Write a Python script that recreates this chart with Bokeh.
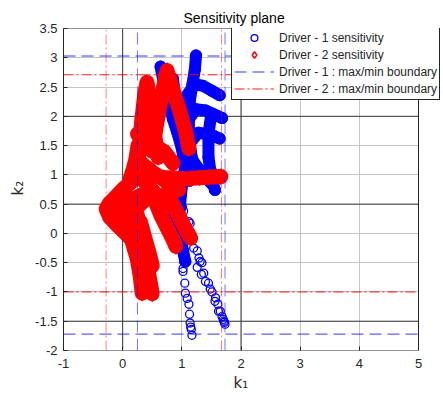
from bokeh.plotting import figure
from bokeh.models import FixedTicker, Legend, LegendItem, Span, Title, BoxAnnotation
from bokeh.embed import file_html
from bokeh.resources import INLINE

# ---------------- axes ----------------
x_limits = [-1, 5]
y_limits = [-2, 3.5]
x_view_end = 5.4225          # extra room on the right for the legend (outside the axes box)
x_ticks = [-1, 0, 1, 2, 3, 4, 5]
x_tick_labels = ["-1", "0", "1", "2", "3", "4", "5"]
y_ticks = [-2, -1.5, -1, -0.5, 0, 0.5, 1, 1.5, 2, 2.5, 3, 3.5]
y_tick_labels = ["-2", "-1.5", "-1", "-0.5", "0", "0.5", "1", "1.5", "2", "2.5", "3", "3.5"]

# ---------------- boundaries ----------------
d1_k1_bounds = [0.25, 1.73]
d1_k2_bounds = [-1.72, 3.03]
d2_k1_bounds = [-0.28, 1.67]
d2_k2_bounds = [-1.00, 2.71]

# ---------------- Driver 1 (blue) dense traces ----------------
b1_k1 = [0.64, 0.70, 0.77, 0.85, 0.93, 1.00, 1.05]
b1_k2 = [2.85, 2.55, 2.25, 1.95, 1.70, 1.45, 1.15]
b2_k1 = [0.85, 0.88, 0.93, 0.99, 1.05, 1.10, 1.13]
b2_k2 = [2.64, 2.40, 2.10, 1.80, 1.50, 1.20, 0.90]
b3_k1 = [1.24, 1.22, 1.18, 1.14, 1.12, 1.12, 1.15, 1.20]
b3_k2 = [3.04, 2.80, 2.55, 2.30, 2.00, 1.70, 1.40, 1.15]
b4_k1 = [1.08, 1.22, 1.36, 1.50, 1.64]
b4_k2 = [2.35, 2.55, 2.52, 2.44, 2.36]
b5_k1 = [1.08, 1.24, 1.40, 1.55, 1.68]
b5_k2 = [1.90, 2.12, 2.10, 2.03, 1.97]
b6_k1 = [1.10, 1.28, 1.42, 1.55, 1.64]
b6_k2 = [1.50, 1.72, 1.70, 1.66, 1.62]
b7_k1 = [1.50, 1.45, 1.45, 1.50, 1.56]
b7_k2 = [2.05, 1.70, 1.30, 0.95, 0.74]
b8_k1 = [1.05, 1.00, 0.97, 0.95, 0.97, 1.02, 1.06]
b8_k2 = [1.10, 0.80, 0.50, 0.20, -0.05, -0.30, -0.48]
b9_k1 = [1.15, 1.25, 1.38, 1.50]
b9_k2 = [1.30, 1.15, 1.00, 0.85]
b10_k1 = [0.80, 0.88, 0.95, 1.02]
b10_k2 = [0.30, 0.10, -0.10, -0.30]

# Driver 1 sparse circles (tails)
bt_k1 = [1.01, 1.03, 1.14, 1.12, 1.14, 1.20, 1.26, 1.29, 1.31, 1.34, 1.26, 1.33, 1.37,
         1.40, 1.45, 1.48, 1.51, 1.57, 1.56, 1.61, 1.62, 1.65, 1.68, 1.70, 1.71, 1.73, 1.72,
         1.03, 1.02, 1.02, 1.05, 1.06, 1.09, 1.12, 1.13, 1.14, 1.15, 1.16, 1.17]
bt_k2 = [0.45, 0.38, 0.17, 0.20, 0.00, -0.25, -0.30, -0.42, -0.48, -0.50, -0.58, -0.70, -0.68,
         -0.82, -0.85, -0.95, -1.00, -1.10, -1.16, -1.21, -1.33, -1.33, -1.42, -1.47, -1.50, -1.55, -1.52,
         -0.48, -0.60, -0.65, -0.85, -1.02, -1.11, -1.21, -1.38, -1.53, -1.60, -1.64, -1.74]

# ---------------- Driver 2 (red) dense traces ----------------
r1_k1 = [0.26, 0.32, 0.37, 0.41, 0.46, 0.52, 0.60]
r1_k2 = [1.20, 1.90, 2.35, 2.58, 2.30, 1.80, 1.30]
r2_k1 = [0.50, 0.58, 0.66, 0.75, 0.85, 0.96, 1.06, 1.12]
r2_k2 = [1.40, 1.90, 2.35, 2.78, 2.45, 2.10, 1.75, 1.45]
r3_k1 = [0.25, 0.45, 0.70, 0.85]
r3_k2 = [1.70, 1.55, 1.40, 1.20]
r4_k1 = [0.25, 0.50, 0.80, 0.95]
r4_k2 = [1.25, 1.05, 0.85, 0.75]
r5_k1 = [0.25, 0.15, 0.00, -0.12, -0.22, -0.28, -0.22, -0.10, 0.05, 0.20]
r5_k2 = [1.00, 0.88, 0.75, 0.62, 0.52, 0.42, 0.28, 0.15, 0.00, -0.15]
r6_k1 = [0.30, 0.10, -0.05, -0.15, 0.00, 0.20, 0.35]
r6_k2 = [0.65, 0.55, 0.45, 0.35, 0.30, 0.40, 0.55]
r7_k1 = [0.05, 0.15, 0.25, 0.30, 0.33]
r7_k2 = [0.20, -0.10, -0.45, -0.75, -1.02]
r8_k1 = [0.25, 0.32, 0.40, 0.45, 0.50]
r8_k2 = [0.30, -0.05, -0.45, -0.75, -1.03]
r9_k1 = [0.30, 0.38, 0.45, 0.50]
r9_k2 = [0.20, -0.10, -0.35, -0.55]
r10_k1 = [0.55, 0.65, 0.75, 0.85, 0.90]
r10_k2 = [0.55, 0.30, 0.10, -0.10, -0.22]
r11_k1 = [0.75, 0.85, 0.95, 1.05, 1.15]
r11_k2 = [0.70, 0.50, 0.30, 0.10, -0.08]
r12_k1 = [0.70, 0.85, 1.00, 1.15, 1.30, 1.45, 1.58, 1.66]
r12_k2 = [0.95, 0.95, 0.93, 0.94, 0.95, 0.96, 0.97, 0.97]
r13_k1 = [0.26, 0.22, 0.18, 0.13]
r13_k2 = [1.50, 1.25, 1.10, 0.94]
r14_k1 = [0.30, 0.45, 0.60, 0.75]
r14_k2 = [0.95, 0.80, 0.62, 0.45]

blue_k1 = [b1_k1, b2_k1, b3_k1, b4_k1, b5_k1, b6_k1, b7_k1, b8_k1, b9_k1, b10_k1]
blue_k2 = [b1_k2, b2_k2, b3_k2, b4_k2, b5_k2, b6_k2, b7_k2, b8_k2, b9_k2, b10_k2]
red_k1 = [r1_k1, r2_k1, r3_k1, r4_k1, r5_k1, r6_k1, r7_k1, r8_k1, r9_k1, r10_k1, r11_k1, r12_k1, r13_k1, r14_k1]
red_k2 = [r1_k2, r2_k2, r3_k2, r4_k2, r5_k2, r6_k2, r7_k2, r8_k2, r9_k2, r10_k2, r11_k2, r12_k2, r13_k2, r14_k2]

BLUE = "#0000ff"
RED = "#ff0000"
INK = "#262626"
FONT = "Liberation Sans"

p = figure(frame_width=380, frame_height=322, x_range=(x_limits[0], x_view_end), y_range=y_limits,
           output_backend="svg", toolbar_location=None,
           min_border_left=61, min_border_right=2, min_border_top=28, min_border_bottom=48)
p.background_fill_color = "white"
p.border_fill_color = "white"
p.outline_line_color = None

# title (left aligned + offset so that it is centred over the axes box)
p.title.text = "Sensitivity plane"
p.title.align = "left"
p.title.offset = 120
p.title.standoff = 6
p.title.text_font = FONT
p.title.text_font_size = "14px"
p.title.text_font_style = "normal"
p.title.text_color = "black"

for ax, ticks, labels in ((p.xaxis[0], x_ticks, x_tick_labels), (p.yaxis[0], y_ticks, y_tick_labels)):
    ax.ticker = FixedTicker(ticks=ticks)
    ax.major_label_overrides = {t: l for t, l in zip(ticks, labels)}
    ax.major_tick_in = 4
    ax.major_tick_out = 0
    ax.minor_tick_line_color = None
    ax.axis_line_color = INK
    ax.major_tick_line_color = INK
    ax.major_label_text_font = FONT
    ax.major_label_text_font_size = "13px"
    ax.major_label_text_color = INK
p.xaxis.axis_line_color = None
p.xaxis.major_label_standoff = 8
p.yaxis.major_label_standoff = 6

p.xgrid.grid_line_color = "#c4c4c4"
p.ygrid.grid_line_color = "#c4c4c4"
p.xgrid.ticker = FixedTicker(ticks=x_ticks)
p.ygrid.ticker = FixedTicker(ticks=y_ticks)
for loc in (0, 2):
    p.add_layout(Span(location=loc, dimension="height", line_color="#3a3a3a", line_width=1, level="underlay"))
for loc in (0.5, 2, -1.5):
    p.add_layout(Span(location=loc, dimension="width", line_color="#3a3a3a", line_width=1, level="underlay"))

# axis labels k1 / k2
xlab = Title(text="k\u2081", align="left", offset=170, standoff=3, text_font="DejaVu Sans",
             text_font_size="15px", text_font_style="normal", text_color=INK)
p.add_layout(xlab, "below")
ylab = Title(text="k\u2082", align="left", offset=155, standoff=12, text_font="DejaVu Sans",
             text_font_size="15px", text_font_style="normal", text_color=INK)
p.add_layout(ylab, "left")

# Driver 1 data
p.multi_line(xs=blue_k1, ys=blue_k2, line_color=BLUE, line_width=12,
             line_join="round", line_cap="round")
b_dense_x = [v for s in blue_k1 for v in s]
b_dense_y = [v for s in blue_k2 for v in s]
p.scatter(b_dense_x, b_dense_y, marker="circle", size=11, fill_color=BLUE, line_color=BLUE)
r_b = p.scatter(bt_k1, bt_k2, marker="circle", size=8, fill_color=None, line_color=BLUE, line_width=1.3)

# Driver 2 data
p.multi_line(xs=red_k1, ys=red_k2, line_color=RED, line_width=15,
             line_join="round", line_cap="round")
r_dense_x = [v for s in red_k1 for v in s]
r_dense_y = [v for s in red_k2 for v in s]
p.scatter(r_dense_x, r_dense_y, marker="diamond", size=16, fill_color=RED, line_color=RED)
r_leg2 = p.scatter(r_dense_x, r_dense_y, marker="diamond", size=9, fill_color=None,
                   line_color=RED, line_width=1.5)

# boundaries
p.multi_line(xs=[[b, b] for b in d1_k1_bounds], ys=[y_limits, y_limits],
             line_color=BLUE, line_dash="12 6", line_width=1, line_alpha=0.55)
r_d1 = p.multi_line(xs=[x_limits, x_limits], ys=[[b, b] for b in d1_k2_bounds],
                    line_color=BLUE, line_dash="12 6", line_width=1, line_alpha=0.8)
p.multi_line(xs=[[b, b] for b in d2_k1_bounds], ys=[y_limits, y_limits],
             line_color=RED, line_dash="10 3 2 3", line_width=1, line_alpha=0.5)
r_d2 = p.multi_line(xs=[x_limits, x_limits], ys=[[b, b] for b in d2_k2_bounds],
                    line_color=RED, line_dash="10 3 2 3", line_width=1, line_alpha=0.9)

# blank strip right of the axes box, then the axes box itself
p.add_layout(BoxAnnotation(left=x_limits[1], fill_color="white", fill_alpha=1, line_alpha=0))
p.add_layout(BoxAnnotation(left=x_limits[0], right=x_limits[1], bottom=y_limits[0], top=y_limits[1],
                           fill_alpha=0, line_color=INK, line_width=1, line_alpha=1))

legend = Legend(items=[
    LegendItem(label="Driver - 1 sensitivity", renderers=[r_b]),
    LegendItem(label="Driver - 2 sensitivity", renderers=[r_leg2]),
    LegendItem(label="Driver - 1 : max/min boundary", renderers=[r_d1]),
    LegendItem(label="Driver - 2 : max/min boundary", renderers=[r_d2]),
], location=(168, 250))
legend.label_text_font = FONT
legend.label_text_font_size = "12px"
legend.label_text_color = INK
legend.label_height = 17
legend.glyph_height = 17
legend.glyph_width = 40
legend.label_standoff = 5
legend.spacing = 0
legend.padding = 2
legend.margin = 0
legend.border_line_color = INK
legend.border_line_width = 1
legend.border_line_alpha = 1
legend.background_fill_alpha = 1
p.add_layout(legend)

open("out.html", "w").write(file_html(p, INLINE))
